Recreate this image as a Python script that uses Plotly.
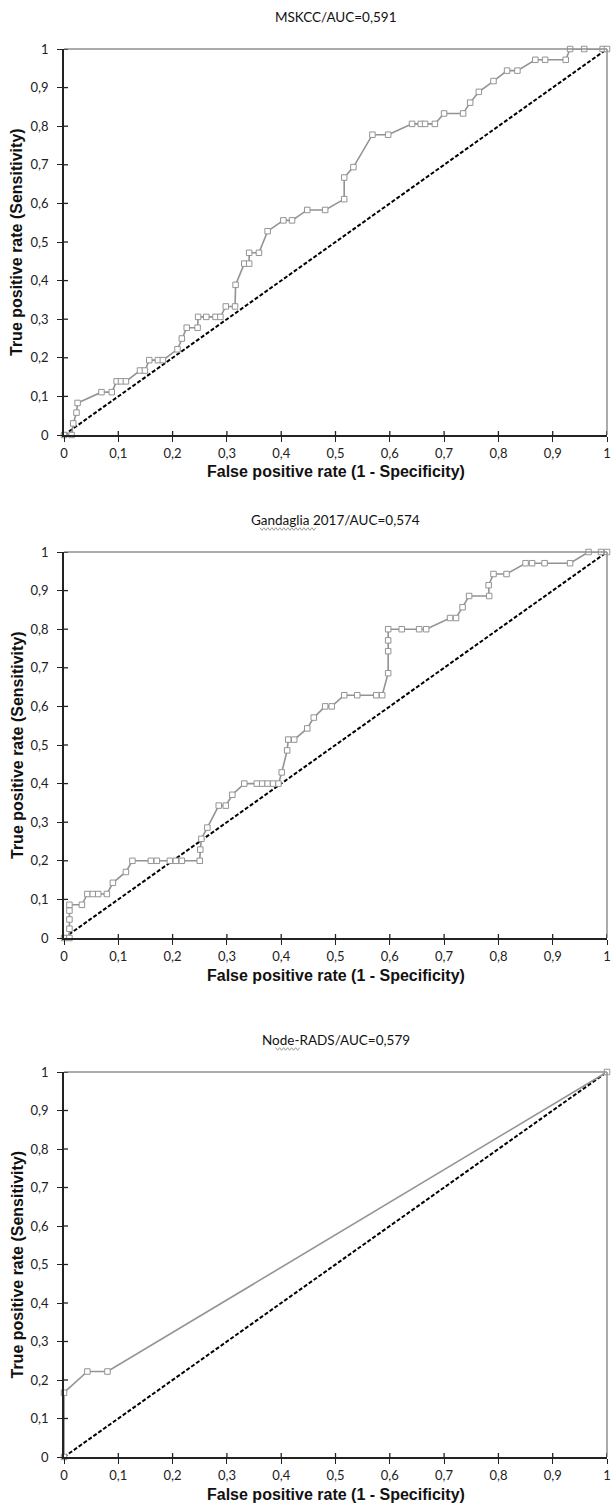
import plotly.graph_objects as go

W, H = 612, 1511

# ---------------- data ----------------
mskcc_fpr = [0, 0.014, 0.017, 0.023, 0.025, 0.069, 0.088, 0.097, 0.105, 0.114,
             0.140, 0.149, 0.157, 0.173, 0.182, 0.209, 0.217, 0.226, 0.246, 0.247,
             0.262, 0.279, 0.288, 0.298, 0.315, 0.316, 0.332, 0.341, 0.341, 0.359,
             0.375, 0.404, 0.420, 0.448, 0.481, 0.516, 0.516, 0.533, 0.568, 0.597,
             0.641, 0.657, 0.665, 0.683, 0.700, 0.735, 0.748, 0.764, 0.791, 0.816,
             0.835, 0.868, 0.886, 0.924, 0.932, 0.958, 0.992, 1.0]
mskcc_tpr = [0, 0, 0.030, 0.058, 0.083, 0.111, 0.111, 0.139, 0.139, 0.139,
             0.167, 0.167, 0.194, 0.194, 0.194, 0.222, 0.250, 0.278, 0.278, 0.306,
             0.306, 0.306, 0.306, 0.333, 0.333, 0.389, 0.444, 0.444, 0.472, 0.472,
             0.528, 0.556, 0.556, 0.583, 0.583, 0.611, 0.667, 0.694, 0.778, 0.778,
             0.806, 0.806, 0.806, 0.806, 0.833, 0.833, 0.861, 0.889, 0.917, 0.944,
             0.944, 0.972, 0.972, 0.972, 1.0, 1.0, 1.0, 1.0]

gand_fpr = [0, 0.010, 0.010, 0.010, 0.010, 0.010, 0.033, 0.043, 0.053, 0.063,
            0.079, 0.090, 0.114, 0.126, 0.160, 0.171, 0.195, 0.206, 0.217, 0.250,
            0.251, 0.253, 0.264, 0.285, 0.298, 0.310, 0.332, 0.355, 0.365, 0.375,
            0.385, 0.395, 0.401, 0.411, 0.413, 0.424, 0.448, 0.460, 0.481, 0.493,
            0.516, 0.540, 0.575, 0.586, 0.597, 0.597, 0.597, 0.597, 0.622, 0.654,
            0.667, 0.711, 0.722, 0.734, 0.746, 0.783, 0.782, 0.791, 0.815, 0.850,
            0.862, 0.885, 0.932, 0.966, 0.989, 1.0]
gand_tpr = [0, 0, 0.024, 0.048, 0.071, 0.086, 0.086, 0.114, 0.114, 0.114,
            0.114, 0.143, 0.171, 0.200, 0.200, 0.200, 0.200, 0.200, 0.200, 0.200,
            0.229, 0.257, 0.286, 0.343, 0.343, 0.371, 0.400, 0.400, 0.400, 0.400,
            0.400, 0.400, 0.429, 0.486, 0.514, 0.514, 0.543, 0.571, 0.600, 0.600,
            0.629, 0.629, 0.629, 0.629, 0.686, 0.743, 0.771, 0.800, 0.800, 0.800,
            0.800, 0.829, 0.829, 0.857, 0.886, 0.886, 0.914, 0.943, 0.943, 0.971,
            0.971, 0.971, 0.971, 1.0, 1.0, 1.0]

node_fpr = [0, 0, 0.043, 0.080, 1.0]
node_tpr = [0, 0.167, 0.222, 0.222, 1.0]

diag_x = [0, 1]
diag_y = [0, 1]

titles = ["MSKCC/AUC=0,591", "Gandaglia 2017/AUC=0,574", "Node-RADS/AUC=0,579"]
underlined = ["", "Gandaglia", "Node"]
tick_vals = [0, 0.1, 0.2, 0.3, 0.4, 0.5, 0.6, 0.7, 0.8, 0.9, 1]
tick_text = ["0", "0,1", "0,2", "0,3", "0,4", "0,5", "0,6", "0,7", "0,8", "0,9", "1"]
x_title = "False positive rate (1 - Specificity)"
y_title = "True positive rate (Sensitivity)"

series = [(mskcc_fpr, mskcc_tpr), (gand_fpr, gand_tpr), (node_fpr, node_tpr)]

# ---------------- layout geometry (pixels) ----------------
LEFT, RIGHT = 64, 607
PANELS = [(49, 435), (552, 938), (1072, 1457)]   # (top, bottom) of plot area
TITLE_Y = [17, 520, 1040]
XT_Y_OFF = 37       # axis-title center below the x axis

def px(x):
    return x / W

def py(y):
    return 1 - y / H

CURVE = "#939393"
TICK_FONT = dict(family="Lato, Open Sans, sans-serif", size=13, color="#222")
LABEL_FONT = dict(family="Liberation Sans, Arial, sans-serif", size=16, color="#111")
TITLE_FONT = dict(family="Lato, Open Sans, sans-serif", size=13.5, color="#111")

fig = go.Figure()
annotations = []
shapes = []

for i, ((fx, ty), (top, bot)) in enumerate(zip(series, PANELS)):
    n = "" if i == 0 else str(i + 1)
    xa, ya = "x" + n, "y" + n
    fig.add_trace(go.Scatter(
        x=diag_x, y=diag_y, xaxis=xa, yaxis=ya, mode="lines",
        line=dict(color="black", width=2, dash="4px,2px"),
        hoverinfo="skip", showlegend=False, cliponaxis=False))
    fig.add_trace(go.Scatter(
        x=fx, y=ty, xaxis=xa, yaxis=ya, mode="lines+markers",
        line=dict(color=CURVE, width=1.6),
        marker=dict(symbol="square", size=5.5, color="white",
                    line=dict(color=CURVE, width=1)),
        showlegend=False, cliponaxis=False))

    dom_y = [py(bot), py(top)]
    axis_common = dict(range=[0, 1], tickmode="array", tickvals=tick_vals,
                       ticktext=tick_text, ticks="outside", ticklen=5,
                       tickwidth=1.3, tickcolor="#222", showline=True,
                       linecolor="#222", linewidth=1.8, showgrid=False,
                       zeroline=False, tickfont=TICK_FONT, fixedrange=True,
                       automargin=False)
    fig.update_layout(**{
        ("xaxis" + n): dict(domain=[px(LEFT), px(RIGHT)], anchor=ya, **axis_common),
        ("yaxis" + n): dict(domain=dom_y, anchor=xa, ticklabelstandoff=6,
                            **axis_common),
    })

    # gray top and right border of the plot area
    shapes.append(dict(type="line", xref=xa + " domain", yref=ya + " domain",
                       x0=0, x1=1, y0=1, y1=1,
                       line=dict(color="#8f8f8f", width=1.5)))
    shapes.append(dict(type="line", xref=xa + " domain", yref=ya + " domain",
                       x0=1, x1=1, y0=0, y1=1,
                       line=dict(color="#8f8f8f", width=1.5)))

    # inner half of the crossing tick marks
    ph = bot - top
    pw = RIGHT - LEFT
    for v in tick_vals[1:]:
        shapes.append(dict(type="line", xref=xa, yref=ya + " domain",
                           x0=v, x1=v, y0=0, y1=4 / ph,
                           line=dict(color="#222", width=1.3)))
        shapes.append(dict(type="line", xref=xa + " domain", yref=ya,
                           x0=0, x1=4 / pw, y0=v, y1=v,
                           line=dict(color="#222", width=1.3)))

    # panel title
    cx = (LEFT + RIGHT) / 2
    annotations.append(dict(text=titles[i], x=px(cx), y=py(TITLE_Y[i]),
                            xref="paper", yref="paper", showarrow=False,
                            xanchor="center", yanchor="middle", font=TITLE_FONT))
    # axis titles
    annotations.append(dict(text="<b>" + x_title + "</b>", x=px(cx),
                            y=py(bot + XT_Y_OFF), xref="paper", yref="paper",
                            showarrow=False, xanchor="center", yanchor="middle",
                            font=LABEL_FONT))
    annotations.append(dict(text="<b>" + y_title + "</b>", x=px(17),
                            y=py((top + bot) / 2), xref="paper", yref="paper",
                            showarrow=False, xanchor="center", yanchor="middle",
                            textangle=-90, font=LABEL_FONT))

    # spell-check style wavy underline
    if underlined[i]:
        full_w = len(titles[i]) * 6.3
        start = cx - full_w / 2
        end = start + len(underlined[i]) * 6.4
        yb = TITLE_Y[i] + 9
        pts = []
        xx = start
        k = 0
        while xx <= end:
            pts.append((xx, yb + (1.3 if k % 2 else -1.3)))
            xx += 2
            k += 1
        path = "M " + " L ".join(f"{px(a):.5f},{py(b):.5f}" for a, b in pts)
        shapes.append(dict(type="path", xref="paper", yref="paper", path=path,
                           line=dict(color="#9a9a9a", width=1)))

fig.update_layout(width=W, height=H, margin=dict(l=0, r=0, t=0, b=0),
                  paper_bgcolor="white", plot_bgcolor="white",
                  annotations=annotations, shapes=shapes, showlegend=False)

fig.write_html("out.html", config={"displayModeBar": False})

# remove the default page margin so the figure sits at the window origin
with open("out.html", "r", encoding="utf-8") as f:
    html = f.read()
html = html.replace("<head>", "<head><style>html,body{margin:0;padding:0;overflow:hidden;}</style>", 1)
with open("out.html", "w", encoding="utf-8") as f:
    f.write(html)
